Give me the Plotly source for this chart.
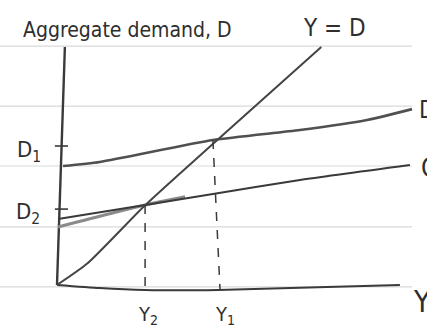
import plotly.graph_objects as go

# Keynesian cross sketch: output Y on the horizontal axis, aggregate demand D on the vertical.

# 45-degree line Y = D
yd_y = [0, 1.15, 3.35, 6.0, 10.05]
yd_d = [0, 0.9, 3.35, 6.0, 10.0]

# Higher demand schedule (intercept D1)
d1_y = [0.23, 1.63, 5.93, 9.24, 11.79, 13.5]
d1_d = [5.0, 5.17, 6.09, 6.51, 6.93, 7.39]

# Lower demand schedule (intercept D2)
d2_y = [0.04, 3.35, 5.93, 9.24, 13.42]
d2_d = [2.77, 3.36, 3.82, 4.41, 5.04]

# Earlier pencil stroke of the lower schedule
d2_old_y = [0.04, 3.35, 4.87]
d2_old_d = [2.44, 3.36, 3.70]

# Hand-drawn axes
vaxis_y = [0.30, 0.0]
vaxis_d = [10.0, 0.0]
haxis_y = [0.0, 1.63, 3.35, 6.12, 13.04]
haxis_d = [0.0, -0.13, -0.21, -0.21, 0.0]

# Equilibrium drop lines
y2_drop_y = [3.35, 3.35]
y2_drop_d = [3.36, -0.21]
y1_drop_y = [5.93, 6.2]
y1_drop_d = [6.09, -0.21]

# Tick marks on the demand axis
tick_d_levels = [5.84, 3.19]

# Ruled lines of the notebook paper
ruled_levels = [10.04, 7.52, 5.0, 2.44, -0.08]

pencil = "#3a3a3a"
fig = go.Figure()

for lvl in ruled_levels:
    fig.add_trace(go.Scatter(x=[-2.2, 13.5], y=[lvl, lvl], mode="lines",
                             line=dict(color="#d9d9d9", width=1.2), hoverinfo="skip"))

def stroke(xs, ys, color=pencil, width=2.0, dash="solid"):
    fig.add_trace(go.Scatter(x=xs, y=ys, mode="lines",
                             line=dict(color=color, width=width, dash=dash, shape="spline", smoothing=0.6),
                             hoverinfo="skip"))

stroke(vaxis_y, vaxis_d, width=2.4)
stroke(haxis_y, haxis_d, width=2.0)
stroke(d2_old_y, d2_old_d, color="#8a8a8a", width=3.2)
stroke(d2_y, d2_d, width=2.0)
stroke(d1_y, d1_d, color="#505050", width=2.6)
stroke(yd_y, yd_d, color="#444444", width=2.0)
stroke(y2_drop_y, y2_drop_d, width=1.5, dash="dash")
stroke(y1_drop_y, y1_drop_d, width=1.5, dash="dash")
for lvl in tick_d_levels:
    stroke([-0.08, 0.42], [lvl, lvl], width=1.6)

font = "DejaVu Sans Condensed, Liberation Sans Narrow, sans-serif"
labels = [
    ("Aggregate demand, D", 2.68, 10.72, 21, "center"),
    ("Y = D", 10.57, 10.8, 24, "center"),
    ("D<sub>1</sub>", -1.05, 5.6, 22, "center"),
    ("D<sub>2</sub>", -1.1, 3.0, 22, "center"),
    ("Y<sub>2</sub>", 3.45, -1.25, 20, "center"),
    ("Y<sub>1</sub>", 6.4, -1.25, 20, "center"),
    ("Y", 13.45, -0.7, 30, "left"),
    ("D", 13.7, 7.35, 24, "left"),
    ("C", 13.75, 4.9, 26, "left"),
]
for text, x, y, size, anchor in labels:
    fig.add_annotation(x=x, y=y, text=text, showarrow=False, xanchor=anchor,
                       font=dict(family=font, size=size, color="#2e2e2e"))

fig.update_layout(
    width=427, height=331,
    margin=dict(l=0, r=0, t=0, b=0),
    paper_bgcolor="white", plot_bgcolor="white",
    showlegend=False,
    xaxis=dict(range=[-2.167, 14.07], visible=False, fixedrange=True),
    yaxis=dict(range=[-1.933, 11.975], visible=False, fixedrange=True),
)

fig.write_html("out.html")
